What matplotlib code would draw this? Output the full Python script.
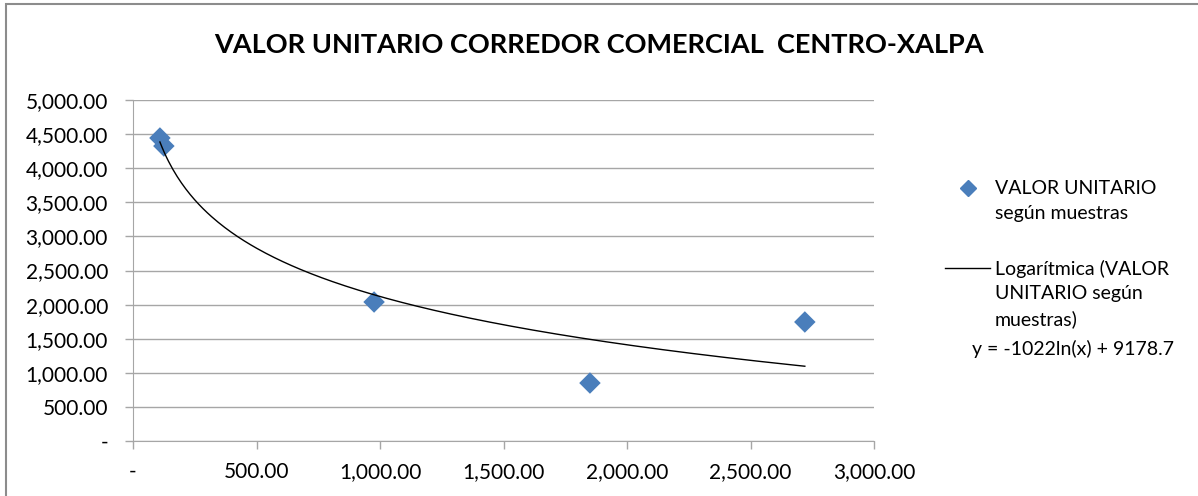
import matplotlib
matplotlib.use("Agg")
import matplotlib.pyplot as plt
import numpy as np
from matplotlib.ticker import FuncFormatter, MultipleLocator
from matplotlib.lines import Line2D

title = "VALOR UNITARIO CORREDOR COMERCIAL  CENTRO-XALPA"
x_vals = [109, 125, 976, 1850, 2720]
y_vals = [4443, 4325, 2038, 850, 1745]
coef_a = -1022
coef_b = 9178.7
series_label = "VALOR UNITARIO\nsegún muestras"
trend_label = "Logarítmica (VALOR\nUNITARIO según\nmuestras)"
eq_label = "y = -1022ln(x) + 9178.7"

plt.rcParams['font.family'] = ['Lato', 'DejaVu Sans']

W, H = 1198, 496
fig = plt.figure(figsize=(W/100, H/100), dpi=100)
fig.patch.set_facecolor('white')
fig.patches.append(plt.Rectangle((6/W, -0.1), 1.1, 1.1-4/H, transform=fig.transFigure,
                                 fill=False, edgecolor='#8c8c8c', lw=1.5))

ax = fig.add_axes([133/W, 1-441/H, (874-133)/W, (441-100)/H])
ax.set_xlim(0, 3000)
ax.set_ylim(0, 5000)
ax.xaxis.set_major_locator(MultipleLocator(500))
ax.yaxis.set_major_locator(MultipleLocator(500))

def fmt(v, pos):
    if abs(v) < 1e-9:
        return "-"
    return "{:,.2f}".format(v)

ax.xaxis.set_major_formatter(FuncFormatter(fmt))
ax.yaxis.set_major_formatter(FuncFormatter(fmt))
ax.grid(axis='y', color='#a6a6a6', lw=1)
ax.set_axisbelow(True)
for s in ['top', 'right']:
    ax.spines[s].set_visible(False)
for s in ['left', 'bottom']:
    ax.spines[s].set_color('#a6a6a6')
ax.tick_params(axis='both', colors='#a6a6a6', labelcolor='black', labelsize=15, length=6, width=1)
ax.tick_params(axis='x', pad=9)
ax.tick_params(axis='y', pad=12)

ax.scatter(x_vals, y_vals, marker='D', s=120, color='#4a7ebb', zorder=3, edgecolors='none')
xs = np.linspace(min(x_vals), max(x_vals), 300)
ax.plot(xs, coef_a*np.log(xs) + coef_b, color='black', lw=1, zorder=4)

fig.text(0.5, 1-45/H, title, ha='center', va='center', fontsize=19.5, fontweight='bold')

# legend
fig.lines.append(Line2D([968/W], [1-188/H], marker='D', markersize=8, color='#4a7ebb',
                        transform=fig.transFigure, linestyle='none'))
fig.text(995/W, 1-201/H, series_label, ha='left', va='center', fontsize=14, linespacing=1.5)
fig.lines.append(Line2D([945/W, 990/W], [1-268/H, 1-268/H], color='black', lw=1,
                        transform=fig.transFigure))
fig.text(995/W, 1-294/H, trend_label, ha='left', va='center', fontsize=14, linespacing=1.5)
fig.text(972/W, 1-349/H, eq_label, ha='left', va='center', fontsize=14)

fig.savefig("out.png", dpi=100)
